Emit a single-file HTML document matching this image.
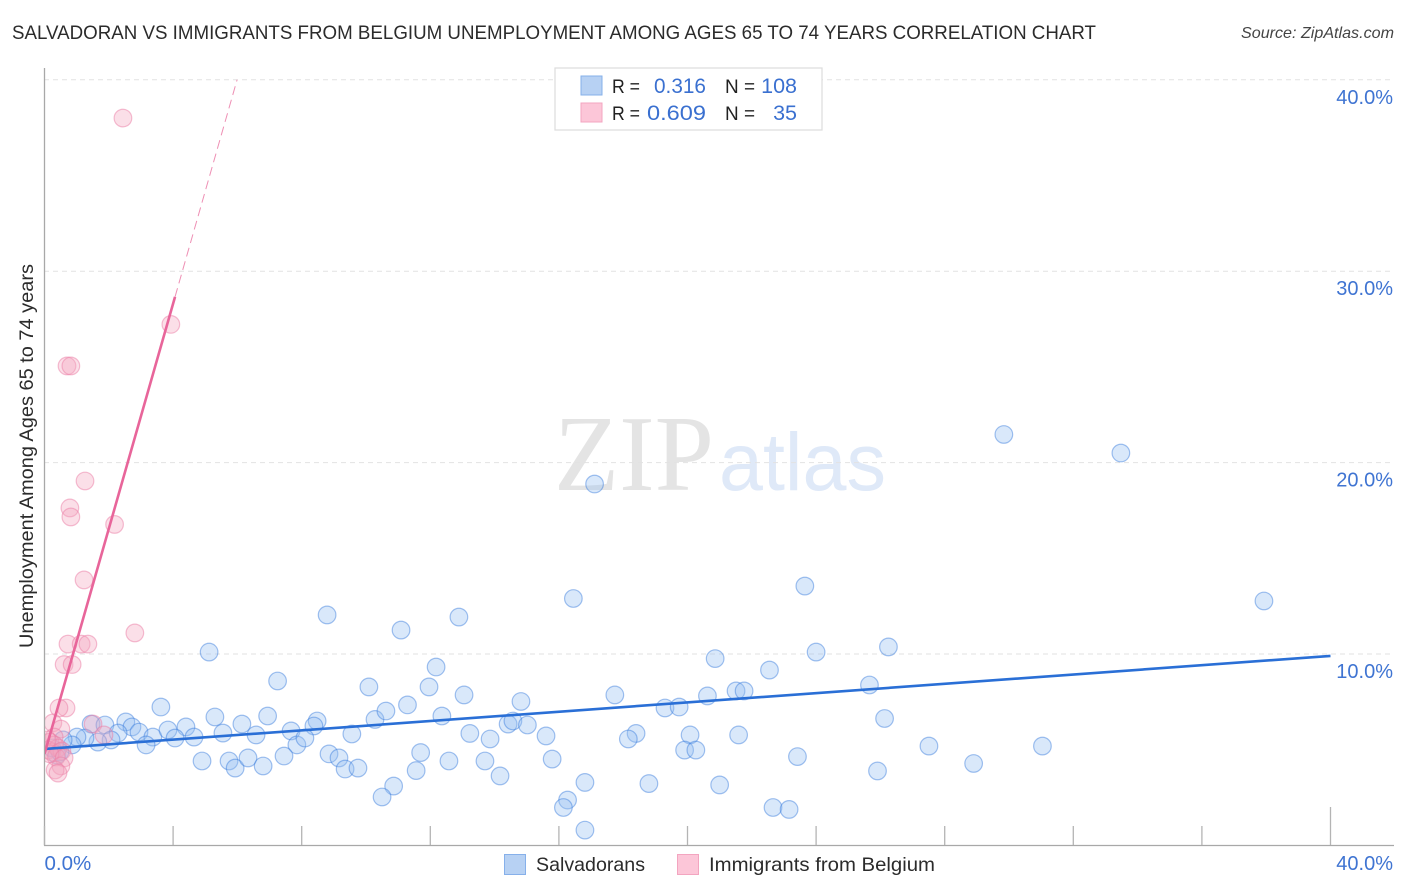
<!DOCTYPE html>
<html>
<head>
<meta charset="utf-8">
<title>Correlation Chart</title>
<style>
html,body{margin:0;padding:0;background:#fff;}
svg{display:block;font-family:"Liberation Sans",sans-serif;}
</style>
</head>
<body>
<svg id="chart" width="1406" height="892" viewBox="0 0 1406 892" xmlns="http://www.w3.org/2000/svg">
  <defs><clipPath id="plot-clip"><rect x="45" y="60" width="1350" height="785"></rect></clipPath></defs>
  <text x="12" y="39" font-size="19.5" fill="#2b2b2b" textLength="1084" lengthAdjust="spacingAndGlyphs">SALVADORAN VS IMMIGRANTS FROM BELGIUM UNEMPLOYMENT AMONG AGES 65 TO 74 YEARS CORRELATION CHART</text>
  <text x="1394" y="38" font-size="16" font-style="italic" fill="#444" text-anchor="end" textLength="153" lengthAdjust="spacingAndGlyphs">Source: ZipAtlas.com</text>
  <text x="554" y="490" font-family="'Liberation Serif',serif" font-size="108" fill="#e4e4e4" textLength="160" lengthAdjust="spacingAndGlyphs">ZIP</text>
  <text x="719" y="490" font-size="82" fill="#dfe9f8" textLength="167" lengthAdjust="spacingAndGlyphs">atlas</text>
  <g id="grid"></g>
  <g id="marks" clip-path="url(#plot-clip)"></g>
  <g id="axes"></g>
  <text transform="translate(33,456) rotate(-90)" font-size="19" fill="#2b2b2b" text-anchor="middle" textLength="384" lengthAdjust="spacingAndGlyphs">Unemployment Among Ages 65 to 74 years</text>

  <g>
    <rect x="555" y="68" width="267" height="62" fill="#fff" stroke="#dcdcdc" stroke-width="1.2"></rect>
    <rect x="581" y="76" width="21" height="19" fill="#b7d1f3" stroke="#86b0ea" stroke-width="1"></rect>
    <rect x="581" y="103" width="21" height="19" fill="#fcc6d8" stroke="#f3a5c0" stroke-width="1"></rect>
    <text x="612" y="93" font-size="19.5" fill="#222" textLength="28" lengthAdjust="spacingAndGlyphs">R =</text>
    <text x="654" y="93" font-size="21.5" fill="#3a70d0" textLength="52" lengthAdjust="spacingAndGlyphs">0.316</text>
    <text x="725" y="93" font-size="19.5" fill="#222" textLength="30" lengthAdjust="spacingAndGlyphs">N =</text>
    <text x="797" y="93" font-size="21.5" fill="#3a70d0" text-anchor="end">108</text>
    <text x="612" y="120" font-size="19.5" fill="#222" textLength="28" lengthAdjust="spacingAndGlyphs">R =</text>
    <text x="647" y="120" font-size="21.5" fill="#3a70d0" textLength="59" lengthAdjust="spacingAndGlyphs">0.609</text>
    <text x="725" y="120" font-size="19.5" fill="#222" textLength="30" lengthAdjust="spacingAndGlyphs">N =</text>
    <text x="797" y="120" font-size="21.5" fill="#3a70d0" text-anchor="end">35</text>
  </g>

  <g>
    <rect x="504.5" y="854.5" width="21" height="20" fill="#b7d1f3" stroke="#86b0ea" stroke-width="1"></rect>
    <text x="536" y="871" font-size="19.5" fill="#2b2b2b" textLength="109" lengthAdjust="spacingAndGlyphs">Salvadorans</text>
    <rect x="677.5" y="854.5" width="21" height="20" fill="#fcc6d8" stroke="#f3a5c0" stroke-width="1"></rect>
    <text x="709" y="871" font-size="19.5" fill="#2b2b2b" textLength="226" lengthAdjust="spacingAndGlyphs">Immigrants from Belgium</text>
  </g>
</svg>
<script>
const blueX = [17.11,29.84,33.48,37.93,16.45,23.65,8.79,11.09,12.89,5.12,24.00,26.25,20.86,12.18,22.55,7.25,10.09,11.96,13.05,14.82,17.74,19.30,19.74,20.62,21.51,21.76,25.66,26.13,3.62,5.30,6.14,6.94,8.48,10.28,10.62,11.29,12.36,14.42,14.57,15.02,13.23,13.86,15.60,18.40,18.16,20.08,21.59,27.51,31.04,19.91,20.26,11.70,15.79,12.58,13.70,11.56,14.17,23.42,25.91,28.90,16.81,18.80,21.00,10.86,10.50,16.27,16.14,22.66,23.16,16.81,1.45,1.88,2.53,2.72,2.94,2.29,3.37,3.84,4.40,4.06,4.65,5.55,3.16,6.58,7.67,8.38,9.56,7.85,8.85,9.16,9.35,9.75,4.90,5.74,5.93,6.33,6.80,7.45,8.10,2.07,1.66,1.26,1.01,0.86,0.58,0.39,0.23,0.48];
const blueY = [18.88,21.47,20.50,12.77,12.90,13.55,12.04,11.25,11.93,10.10,10.10,10.37,9.76,9.32,9.16,8.59,8.28,8.28,7.86,7.52,7.86,7.18,7.23,7.81,8.07,8.07,8.38,6.63,7.23,6.71,6.34,6.76,6.50,6.58,7.02,7.34,6.76,6.34,6.50,6.29,5.85,5.56,5.72,5.85,5.56,5.77,5.77,5.19,5.19,4.98,4.98,4.85,4.51,4.41,4.41,3.91,3.63,4.64,3.89,4.28,3.29,3.23,3.16,3.10,2.53,2.37,1.98,1.98,1.88,0.80,6.34,6.29,6.45,6.19,5.92,5.87,5.66,6.03,6.19,5.61,5.66,5.87,5.25,5.77,5.98,6.24,5.82,5.25,4.78,4.57,3.99,4.04,4.41,4.41,4.04,4.57,4.15,4.67,5.61,5.51,5.40,5.61,5.66,5.25,5.51,4.72,5.09,4.88];
const pinkX = [2.44,3.93,0.70,0.82,1.26,0.79,0.82,2.18,1.23,2.81,0.73,1.14,1.35,0.61,0.86,0.67,0.45,1.51,0.26,0.51,1.85,0.30,0.17,0.30,0.11,0.23,0.42,0.54,0.36,0.17,0.61,0.51,0.33,0.42,0.08];
const pinkY = [38.00,27.22,25.05,25.05,19.04,17.63,17.16,16.77,13.87,11.10,10.52,10.52,10.52,9.45,9.45,7.18,7.18,6.34,6.40,6.08,5.77,5.66,5.40,5.25,4.98,4.88,5.09,4.93,4.62,4.78,4.57,4.15,3.94,3.78,5.51];
const blueTrendX = [0,40];
const blueTrendY = [5.04,9.9];
const pinkSolidX = [0,4.06];
const pinkSolidY = [4.78,28.66];
const pinkDashX = [4.06,5.99];
const pinkDashY = [28.66,40];
const yTicks = [10,20,30,40];
const yTickLabels = ['10.0%','20.0%','30.0%','40.0%'];
const xTicks = [0,4,8,12,16,20,24,28,32,36,40];
const xEndTicks = [0,40];
const xEndLabels = ['0.0%','40.0%'];

const NS = 'http://www.w3.org/2000/svg';
const sx = v => 44.5 + v * 32.15;
const sy = v => 845.4 - v * 19.14;
const grid = document.getElementById('grid');
const axes = document.getElementById('axes');
const marks = document.getElementById('marks');

function make(tag, parent, attrs, txt){
  const el = document.createElementNS(NS, tag);
  for (const k in attrs) el.setAttribute(k, attrs[k]);
  if (txt !== undefined) el.textContent = txt;
  parent.appendChild(el);
  return el;
}

yTicks.forEach((t, i) => {
  const line = make('line', grid, {x1:44, x2:1394, y1:sy(t), y2:sy(t), stroke:'#e2e2e2', 'stroke-width':1, 'stroke-dasharray':'5 4'});
  
  
  const label = make('text', axes, {x:1393, y:sy(t) + 24, 'font-size':20, fill:'#3f74d2', 'text-anchor':'end'}, yTickLabels[i]);
  
  
});

const yAxis = make('line', axes, {x1:44.5, x2:44.5, y1:68, y2:845.5, stroke:'#a8a8a8', 'stroke-width':1.3});


const xAxis = make('line', axes, {x1:44, x2:1394, y1:845.5, y2:845.5, stroke:'#a8a8a8', 'stroke-width':1.3});



xTicks.forEach((t, i) => {
  const top = i === xTicks.length - 1 ? 807 : 826;
  const tick = make('line', axes, {x1:sx(t), x2:sx(t), y1:top, y2:845, stroke:'#b4b4b4', 'stroke-width':1.3});
  
  
});

xEndTicks.forEach((t, i) => {
  const label = make('text', axes, {x: i === 0 ? sx(t) : 1393, y:870, 'font-size': i === 0 ? 20.5 : 20, fill:'#3f74d2', 'text-anchor': i === 0 ? 'start' : 'end'}, xEndLabels[i]);
  
  
});

blueX.forEach((v, i) => {
  const c = make('circle', marks, {cx:sx(v), cy:sy(blueY[i]), r:8.8, fill:'rgba(150,190,240,0.36)', stroke:'rgba(50,120,220,0.45)', 'stroke-width':1.2});
  
  
});
pinkX.forEach((v, i) => {
  const c = make('circle', marks, {cx:sx(v), cy:sy(pinkY[i]), r:8.8, fill:'rgba(245,165,190,0.36)', stroke:'rgba(235,125,165,0.5)', 'stroke-width':1.2});
  
  
});

const blueTrend = make('line', marks, {x1:sx(blueTrendX[0]), y1:sy(blueTrendY[0]), x2:sx(blueTrendX[1]), y2:sy(blueTrendY[1]), stroke:'#2a6fd6', 'stroke-width':2.6});


const pinkSolid = make('line', marks, {x1:sx(pinkSolidX[0]), y1:sy(pinkSolidY[0]), x2:sx(pinkSolidX[1]), y2:sy(pinkSolidY[1]), stroke:'#e8659a', 'stroke-width':2.6});


const pinkDash = make('line', marks, {x1:sx(pinkDashX[0]), y1:sy(pinkDashY[0]), x2:sx(pinkDashX[1]), y2:sy(pinkDashY[1]), stroke:'#ee8fb4', 'stroke-width':1, 'stroke-dasharray':'9 5'});


</script>
</body>
</html>
